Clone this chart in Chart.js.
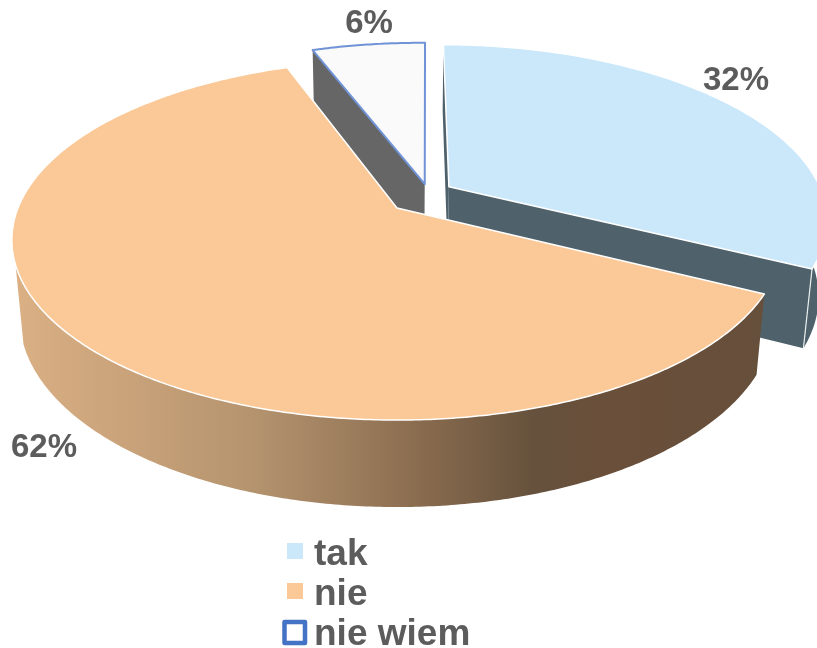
<!DOCTYPE html>
<html><head><meta charset="utf-8">
<style>html,body{margin:0;padding:0;background:#fff}canvas{display:block}</style>
<script src="https://cdn.jsdelivr.net/npm/chart.js@4"></script>
</head><body>
<canvas id="c" width="817" height="648"></canvas>
<script>
const categories = ['tak', 'nie', 'nie wiem'];
const values = [32, 62, 6];
const fills = ['#cbe8fb', '#fbc997', '#fafafa'];
const borders = ['#ffffff', '#ffffff', '#6f93d6'];
const wallColors = ['#4f626b', null, '#666666'];
const legendBorders = [null, null, '#4472c4'];
const rotationDeg = 1.8;

// exploded displacement of each slice on the unit disc
const shiftU = [0.14, 0, 0.075];
const shiftV = [-0.125, 0, -0.14];
// small per-slice correction of the drawn edge angles (degrees)
const startNudge = [-1.4, 0, -0.1];
const endNudge = [0, 0, -1];
// percentage label anchors
const labelX = [736, 44, 369];
const labelY = [90, 457, 33];

// 3-D view
const view = {cx: 397, cy: 208, a: 174.3, b: 379, k: -0.178, m: 0.02, c: 77.5};
function project(u, v, z) {
  const w = 1 + view.k * v + view.m * z;
  return [view.cx + view.b * u / w, view.cy + (view.a * v + view.c * z) / w];
}
function rimPt(i, th, z) {
  return project(shiftU[i] + Math.sin(th), shiftV[i] - Math.cos(th), z);
}
function apexPt(i, z) { return project(shiftU[i], shiftV[i], z); }
const rad = Math.PI / 180;
function sliceAngles(el, i) {
  return [el.startAngle + Math.PI / 2 + startNudge[i] * rad,
          el.endAngle + Math.PI / 2 + endNudge[i] * rad];
}

function arcPoints(i, t1, t2, z) {
  const n = Math.max(2, Math.ceil(Math.abs(t2 - t1) / 0.01));
  const pts = [];
  for (let s = 0; s <= n; s++) pts.push(rimPt(i, t1 + (t2 - t1) * s / n, z));
  return pts;
}
function poly(ctx, pts) {
  ctx.beginPath();
  pts.forEach((p, j) => j ? ctx.lineTo(p[0], p[1]) : ctx.moveTo(p[0], p[1]));
  ctx.closePath();
}
function cutFace(ctx, i, th, color) {
  poly(ctx, [apexPt(i, 0), rimPt(i, th, 0), rimPt(i, th, 1), apexPt(i, 1)]);
  ctx.fillStyle = color; ctx.fill();
}
function rimWall(ctx, i, t1, t2, fill) {
  poly(ctx, arcPoints(i, t1, t2, 0).concat(arcPoints(i, t2, t1, 1)));
  ctx.fillStyle = fill; ctx.fill();
}
function drawTop(ctx) {
  const i = this.$context.dataIndex;
  const [t1, t2] = sliceAngles(this, i);
  poly(ctx, [apexPt(i, 0)].concat(arcPoints(i, t1, t2, 0)));
  ctx.fillStyle = this.options.backgroundColor; ctx.fill();
  ctx.strokeStyle = this.options.borderColor;
  ctx.lineWidth = this.options.borderWidth;
  ctx.lineJoin = 'round';
  ctx.stroke();
}

const pie3d = {
  id: 'pie3d',
  beforeDatasetsDraw(chart) {
    const ctx = chart.ctx;
    const arcs = chart.getDatasetMeta(0).data;
    arcs.forEach(el => { el.draw = drawTop; });
    const T = arcs.map((el, i) => sliceAngles(el, i));
    ctx.save();
    // back slice
    cutFace(ctx, 2, T[2][0], wallColors[2]);
    // exploded slice
    cutFace(ctx, 0, T[0][0], wallColors[0]);
    cutFace(ctx, 0, T[0][1], wallColors[0]);
    rimWall(ctx, 0, Math.PI * 0.4, T[0][1], wallColors[0]);
    const edgeA = rimPt(0, T[0][1], 0), edgeB = rimPt(0, T[0][1], 1);
    ctx.beginPath(); ctx.moveTo(edgeA[0], edgeA[1]); ctx.lineTo(edgeB[0], edgeB[1]);
    ctx.strokeStyle = '#e8eef0'; ctx.lineWidth = 1.2; ctx.stroke();
    // main slice side
    const g = ctx.createLinearGradient(12, 0, 760, 0);
    g.addColorStop(0, '#dbb085');
    g.addColorStop(0.18, '#c6a078');
    g.addColorStop(0.33, '#b3936e');
    g.addColorStop(0.52, '#8f7052');
    g.addColorStop(0.70, '#65513c');
    g.addColorStop(0.80, '#6a4f3a');
    g.addColorStop(1, '#664f3b');
    rimWall(ctx, 1, T[1][0], Math.PI * 1.4, g);
    ctx.restore();
  },
  afterDatasetsDraw(chart) {
    const ctx = chart.ctx;
    const arcs = chart.getDatasetMeta(0).data;
    ctx.save();
    ctx.fillStyle = '#5c5c5c';
    ctx.textBaseline = 'alphabetic';
    ctx.textAlign = 'center';
    ctx.font = 'bold 33px "Liberation Sans"';
    values.forEach((v, i) => ctx.fillText(v + '%', labelX[i], labelY[i]));
    // legend
    ctx.textAlign = 'left';
    ctx.font = 'bold 37px "Liberation Sans"';
    categories.forEach((name, i) => {
      const base = 565 + i * 40;
      ctx.fillStyle = '#5c5c5c';
      ctx.fillText(name, 314, base);
      if (legendBorders[i]) {
        ctx.fillStyle = '#ffffff';
        ctx.strokeStyle = legendBorders[i];
        ctx.lineWidth = 4.5;
        ctx.fillRect(284.5, base - 23, 20.5, 21);
        ctx.strokeRect(284.5, base - 23, 20.5, 21);
      } else {
        ctx.fillStyle = arcs[i].options.backgroundColor;
        ctx.fillRect(287, base - 22, 16, 16);
      }
    });
    ctx.restore();
  }
};

new Chart(document.getElementById('c'), {
  type: 'pie',
  data: {
    labels: categories,
    datasets: [{
      data: values,
      backgroundColor: fills,
      borderColor: borders,
      borderWidth: [1.5, 1.5, 2]
    }]
  },
  options: {
    responsive: false,
    animation: false,
    rotation: rotationDeg,
    events: [],
    plugins: {legend: {display: false}, tooltip: {enabled: false}}
  },
  plugins: [pie3d]
});
</script>
</body></html>
